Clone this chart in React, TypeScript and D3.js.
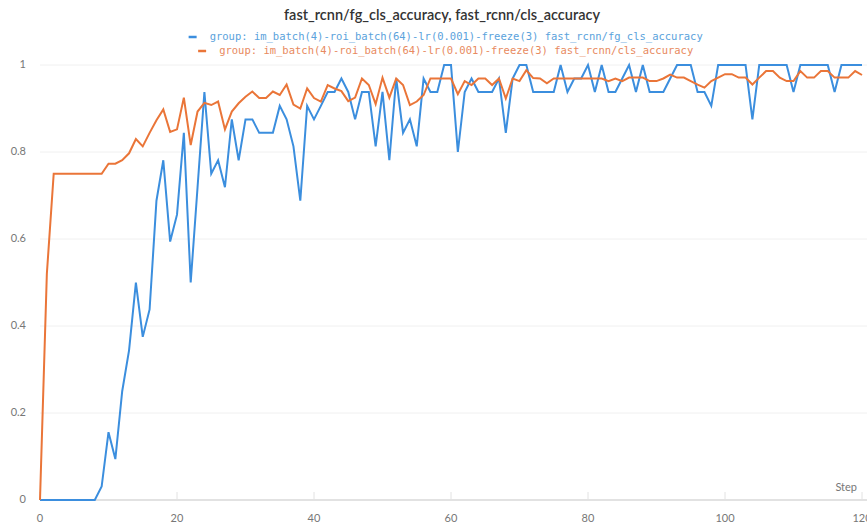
import * as d3 from "d3";

const width = 867;
const height = 527;

// one value per step, step 0..120
const fgClsAccuracy = [
  0, 0, 0, 0, 0, 0, 0, 0, 0, 0.031,
  0.156, 0.094, 0.25, 0.344, 0.5, 0.375, 0.438, 0.688, 0.781, 0.594,
  0.656, 0.844, 0.5, 0.719, 0.938, 0.75, 0.781, 0.719, 0.875, 0.781,
  0.875, 0.875, 0.844, 0.844, 0.844, 0.906, 0.875, 0.813, 0.688, 0.906,
  0.875, 0.906, 0.938, 0.938, 0.969, 0.938, 0.875, 0.938, 0.938, 0.813,
  0.938, 0.781, 0.969, 0.844, 0.875, 0.813, 0.969, 0.938, 0.938, 1,
  1, 0.8, 0.938, 0.969, 0.938, 0.938, 0.938, 0.969, 0.844, 0.969,
  1, 1, 0.938, 0.938, 0.938, 0.938, 1, 0.938, 0.969, 0.969,
  1, 0.938, 1, 0.938, 0.938, 0.969, 1, 0.938, 1, 0.938,
  0.938, 0.938, 0.969, 1, 1, 1, 0.938, 0.938, 0.906, 1,
  1, 1, 1, 1, 0.875, 1, 1, 1, 1, 1,
  0.938, 1, 1, 1, 1, 1, 0.938, 1, 1, 1,
  1,
];

const clsAccuracy = [
  0, 0.52, 0.75, 0.75, 0.75, 0.75, 0.75, 0.75, 0.75, 0.75,
  0.773, 0.773, 0.781, 0.797, 0.83, 0.813, 0.844, 0.873, 0.898, 0.846,
  0.852, 0.925, 0.816, 0.893, 0.913, 0.908, 0.916, 0.852, 0.893, 0.912,
  0.927, 0.939, 0.924, 0.924, 0.939, 0.931, 0.955, 0.909, 0.9, 0.946,
  0.924, 0.916, 0.954, 0.946, 0.94, 0.917, 0.925, 0.969, 0.954, 0.91,
  0.971, 0.925, 0.969, 0.954, 0.908, 0.916, 0.931, 0.969, 0.969, 0.969,
  0.969, 0.933, 0.963, 0.954, 0.969, 0.969, 0.954, 0.969, 0.923, 0.969,
  0.963, 0.988, 0.97, 0.969, 0.958, 0.969, 0.969, 0.969, 0.969, 0.969,
  0.969, 0.969, 0.969, 0.963, 0.969, 0.963, 0.971, 0.971, 0.971, 0.963,
  0.963, 0.969, 0.978, 0.971, 0.971, 0.963, 0.955, 0.948, 0.963, 0.971,
  0.979, 0.979, 0.971, 0.971, 0.955, 0.971, 0.986, 0.986, 0.971, 0.963,
  0.963, 0.986, 0.971, 0.971, 0.986, 0.986, 0.971, 0.971, 0.971, 0.986,
  0.977,
];

const xTicks = [0, 20, 40, 60, 80, 100, 120];
const yTicks = [0, 0.2, 0.4, 0.6, 0.8, 1];

const title = "fast_rcnn/fg_cls_accuracy, fast_rcnn/cls_accuracy";
const legendItems = [
  {
    label: "group: im_batch(4)-roi_batch(64)-lr(0.001)-freeze(3) fast_rcnn/fg_cls_accuracy",
    line: "#3b8ede",
    text: "#5aa2dc",
  },
  {
    label: "group: im_batch(4)-roi_batch(64)-lr(0.001)-freeze(3) fast_rcnn/cls_accuracy",
    line: "#ea7538",
    text: "#e88a60",
  },
];

const x = d3.scaleLinear().domain([0, 120]).range([40, 862]);
const y = d3.scaleLinear().domain([0, 1]).range([500, 65]);

const line = d3
  .line<number>()
  .x((_, i) => x(i))
  .y((d) => y(d));

const charW = 6.33;
const legendCenter = 446;

const App = () => {
  return (
    <svg
      width={width}
      height={height}
      style={{ position: "absolute", left: 0, top: 0, background: "#fff" }}
    >
      <text
        x={442}
        y={20}
        textAnchor="middle"
        fontFamily="Lato, sans-serif"
        fontWeight={600}
        fontSize={14.5}
        fill="#333"
      >
        {title}
      </text>

      {legendItems.map((d, i) => {
        const w = 21 + d.label.length * charW;
        const start = legendCenter - w / 2;
        const ly = 37 + i * 14;
        return (
          <g key={i}>
            <line x1={start} x2={start + 8} y1={ly} y2={ly} stroke={d.line} strokeWidth={2.5} />
            <text
              x={start + 21}
              y={ly}
              dominantBaseline="middle"
              fontFamily="'DejaVu Sans Mono', monospace"
              fontSize={10.5}
              fill={d.text}
            >
              {d.label}
            </text>
          </g>
        );
      })}

      {yTicks.map((t) => (
        <g key={t}>
          {t > 0 && (
            <line x1={40} x2={width} y1={y(t)} y2={y(t)} stroke="#f0f0f0" strokeWidth={1} />
          )}
          <text
            x={26}
            y={y(t)}
            textAnchor="end"
            dominantBaseline="middle"
            fontFamily="Lato, sans-serif"
            fontSize={11}
            fill="#777"
          >
            {t}
          </text>
        </g>
      ))}

      <line x1={40} x2={width} y1={y(0)} y2={y(0)} stroke="#e2e2e2" strokeWidth={2} />
      {xTicks.map((t) => (
        <g key={t}>
          <line x1={x(t)} x2={x(t)} y1={y(0) - 8} y2={y(0)} stroke="#e2e2e2" strokeWidth={1} />
          <text
            x={x(t)}
            y={519}
            textAnchor="middle"
            dominantBaseline="middle"
            fontFamily="Lato, sans-serif"
            fontSize={11}
            fill="#777"
          >
            {t}
          </text>
        </g>
      ))}
      <text
        x={857}
        y={491}
        textAnchor="end"
        fontFamily="Lato, sans-serif"
        fontSize={11}
        fill="#777"
      >
        Step
      </text>

      <path d={line(fgClsAccuracy) ?? ""} fill="none" stroke={legendItems[0].line} strokeWidth={2} />
      <path d={line(clsAccuracy) ?? ""} fill="none" stroke={legendItems[1].line} strokeWidth={2} />
    </svg>
  );
};

export default App;
